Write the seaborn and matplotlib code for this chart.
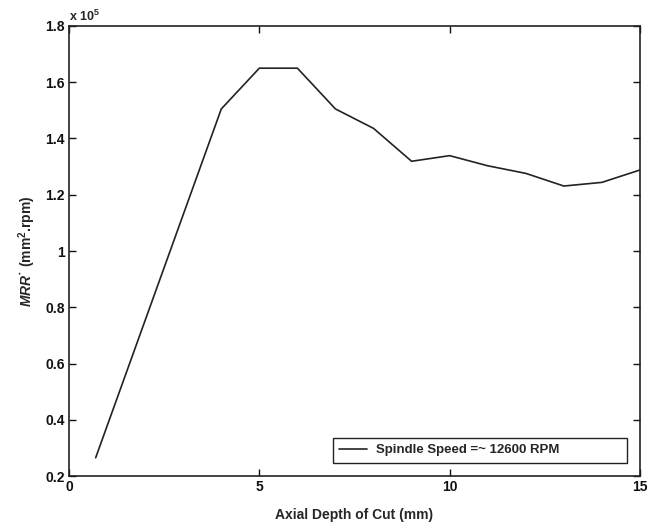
import matplotlib
matplotlib.use("Agg")
import matplotlib.pyplot as plt
import seaborn as sns
import pandas as pd
from matplotlib.ticker import FuncFormatter

depth = [0.7, 4.0, 5.0, 6.0, 7.0, 8.0, 9.0, 10.0, 11.0, 12.0, 13.0, 14.0, 15.0]
mrr = [0.265e5, 1.505e5, 1.65e5, 1.65e5, 1.505e5, 1.436e5, 1.319e5, 1.339e5,
       1.303e5, 1.276e5, 1.231e5, 1.244e5, 1.288e5]
series_label = "Spindle Speed =~ 12600 RPM"
x_ticks = [0, 5, 10, 15]
y_ticks = [0.2e5, 0.4e5, 0.6e5, 0.8e5, 1.0e5, 1.2e5, 1.4e5, 1.6e5, 1.8e5]

sns.set_style("ticks")
plt.rcParams['font.family'] = ['Liberation Sans', 'DejaVu Sans']
plt.rcParams['font.weight'] = 'bold'
plt.rcParams['mathtext.fontset'] = 'custom'
plt.rcParams['mathtext.rm'] = 'Liberation Sans:bold'
plt.rcParams['mathtext.it'] = 'Liberation Sans:bold:italic'
plt.rcParams['mathtext.bf'] = 'Liberation Sans:bold'

df = pd.DataFrame({"depth": depth, "mrr": mrr, "series": series_label})

fig = plt.figure(figsize=(6.58, 5.25), dpi=100)
ax = fig.add_axes([0.1049, 0.0933, 0.8677, 0.8572])
sns.lineplot(data=df, x="depth", y="mrr", hue="series", palette=["#222222"],
             linewidth=1.2, ax=ax)

ax.set_xlim(0, 15)
ax.set_ylim(0.2e5, 1.8e5)
ax.set_xticks(x_ticks)
ax.set_yticks(y_ticks)

def yfmt(v, pos):
    s = f"{v/1e5:.1f}"
    return "1" if s == "1.0" else s
ax.yaxis.set_major_formatter(FuncFormatter(yfmt))
ax.xaxis.set_major_formatter(FuncFormatter(lambda v, p: f"{int(v)}"))

ax.tick_params(direction="in", top=True, right=True, length=5, width=1,
               labelsize=10, colors="#111111", pad=3)
for s in ax.spines.values():
    s.set_visible(True)
    s.set_linewidth(1.2)
    s.set_color("#222222")

ax.set_xlabel("Axial Depth of Cut (mm)", fontsize=10, fontweight="bold", labelpad=10)
ax.set_ylabel("$\\mathit{MRR}$\u02d9 (mm$^{2}$.rpm)", fontsize=10,
              fontweight="bold", labelpad=5)
ax.text(0.0, 1.005, r"x 10$^{5}$", transform=ax.transAxes, fontsize=9,
        fontweight="bold", ha="left", va="bottom")

leg = ax.legend(loc="lower left", frameon=True, fancybox=False,
                prop={"size": 9.5, "weight": "bold"},
                edgecolor="#222222", handlelength=2.1, handletextpad=0.7,
                borderpad=0.5, borderaxespad=0, mode="expand",
                bbox_to_anchor=(0.462, 0.029, 0.515, 0.058))
leg.get_frame().set_linewidth(1.0)
leg.get_frame().set_alpha(1)
leg.set_title(None)

fig.savefig("out.png", dpi=100)
